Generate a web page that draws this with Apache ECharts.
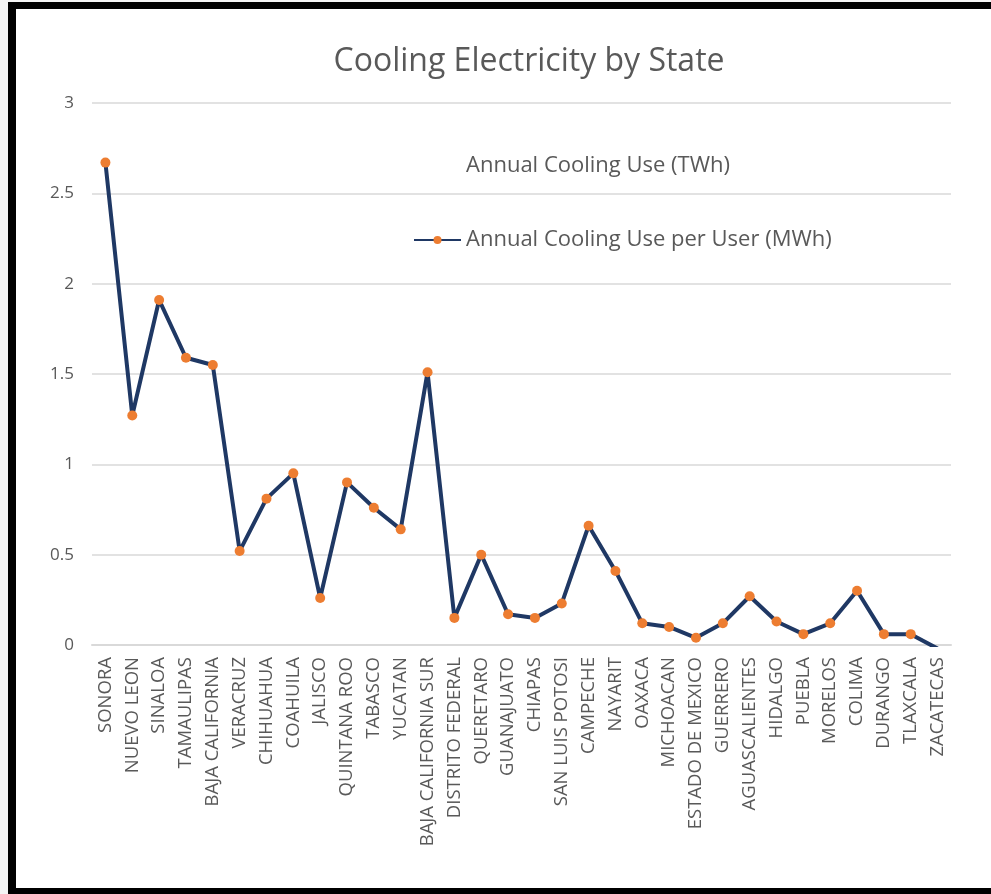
<!DOCTYPE html>
<html>
<head>
<meta charset="utf-8">
<script src="https://cdn.jsdelivr.net/npm/echarts@6/dist/echarts.min.js"></script>
<style>
  html, body { margin: 0; padding: 0; background: #f4f4f4; }
  #frame {
    position: absolute; left: 8px; top: 2px; width: 983px; height: 892px;
    box-sizing: border-box; background: #fff;
    border-left: 8px solid #000; border-top: 7px solid #000; border-bottom: 6px solid #000;
  }
  #main { position: absolute; left: 0; top: 0; width: 991px; height: 894px; }
</style>
</head>
<body>
<div id="frame"></div>
<div id="main"></div>
<script>
const states = ['SONORA', 'NUEVO LEON', 'SINALOA', 'TAMAULIPAS', 'BAJA CALIFORNIA', 'VERACRUZ',
  'CHIHUAHUA', 'COAHUILA', 'JALISCO', 'QUINTANA ROO', 'TABASCO', 'YUCATAN', 'BAJA CALIFORNIA SUR',
  'DISTRITO FEDERAL', 'QUERETARO', 'GUANAJUATO', 'CHIAPAS', 'SAN LUIS POTOSI', 'CAMPECHE', 'NAYARIT',
  'OAXACA', 'MICHOACAN', 'ESTADO DE MEXICO', 'GUERRERO', 'AGUASCALIENTES', 'HIDALGO', 'PUEBLA',
  'MORELOS', 'COLIMA', 'DURANGO', 'TLAXCALA', 'ZACATECAS'];
// per-user use, MWh
const perUser = [2.67, 1.27, 1.91, 1.59, 1.55, 0.52, 0.81, 0.95, 0.26, 0.90, 0.76, 0.64, 1.51,
  0.15, 0.50, 0.17, 0.15, 0.23, 0.66, 0.41, 0.12, 0.10, 0.04, 0.12, 0.27, 0.13, 0.06,
  0.12, 0.30, 0.06, 0.06, -0.02];
const yTicks = [0, 0.5, 1, 1.5, 2, 2.5, 3];

const chart = echarts.init(document.getElementById('main'));
const txt = '#595959';
const font = 'Open Sans';
chart.setOption({
  animation: false,
  backgroundColor: 'transparent',
  title: {
    text: 'Cooling Electricity by State',
    left: 524, top: 41, textAlign: 'center',
    textStyle: { fontFamily: font, fontWeight: 'normal', fontSize: 32, color: txt }
  },
  legend: {
    orient: 'vertical',
    left: 408, top: 150,
    itemGap: 52, itemWidth: 47, itemHeight: 10,
    textStyle: { fontFamily: font, fontSize: 22, color: txt },
    data: [
      { name: 'Annual Cooling Use (TWh)', icon: 'none' },
      { name: 'Annual Cooling Use per User (MWh)' }
    ]
  },
  grid: { left: 92, right: 40, top: 103, bottom: 249, containLabel: false },
  xAxis: {
    type: 'category',
    data: states,
    axisLine: { lineStyle: { color: '#d9d9d9', width: 2 } },
    axisTick: { show: false },
    axisLabel: { rotate: 90, interval: 0, margin: 12, fontFamily: font, fontSize: 18.5, color: txt }
  },
  yAxis: {
    type: 'value',
    min: yTicks[0], max: yTicks[yTicks.length - 1], interval: 0.5,
    axisLine: { show: false },
    axisTick: { show: false },
    splitLine: { lineStyle: { color: '#d9d9d9', width: 1.5 } },
    axisLabel: { margin: 18, fontFamily: font, fontSize: 17, color: txt }
  },
  series: [
    {
      name: 'Annual Cooling Use (TWh)',
      type: 'line',
      data: [],
      itemStyle: { color: 'transparent' },
      lineStyle: { color: 'transparent' }
    },
    {
      name: 'Annual Cooling Use per User (MWh)',
      type: 'line',
      data: perUser,
      clip: true,
      symbol: 'circle',
      symbolSize: 10,
      lineStyle: { color: '#1f3864', width: 4 },
      itemStyle: { color: '#ed7d31', borderWidth: 0 }
    }
  ]
});
</script>
</body>
</html>
